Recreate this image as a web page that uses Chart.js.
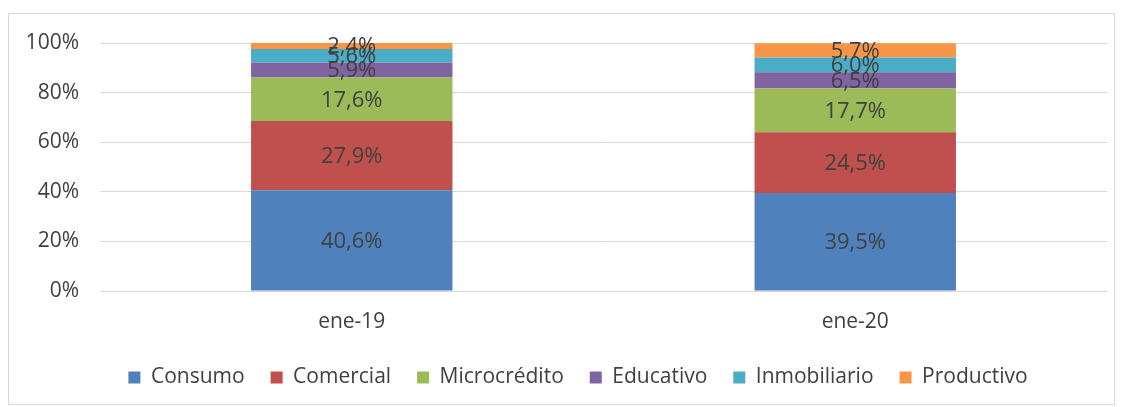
<!DOCTYPE html>
<html>
<head>
<meta charset="utf-8">
<script src="https://cdn.jsdelivr.net/npm/chart.js@4/dist/chart.umd.min.js"></script>
<style>
  html, body { margin: 0; padding: 0; background: #fff; }
  .frame {
    position: absolute; left: 8px; top: 13px; width: 1107px; height: 392px;
    border: 1px solid #d9d9d9; box-sizing: border-box;
  }
  .wrap { position: absolute; left: 9px; top: 14px; width: 1105px; height: 390px; }
</style>
</head>
<body>
<div class="frame"></div>
<div class="wrap"><canvas id="MyChart"></canvas></div>
<script>
const periods = ['ene-19', 'ene-20'];
const consumo = [40.6, 39.5];
const comercial = [27.9, 24.5];
const microcredito = [17.6, 17.7];
const educativo = [5.9, 6.5];
const inmobiliario = [5.6, 6.0];
const productivo = [2.4, 5.7];
const yTicks = [0, 20, 40, 60, 80, 100];

const fontName = "'Open Sans', 'Noto Sans', sans-serif";

// draws the value in the middle of every segment
const segmentLabels = {
    id: 'segmentLabels',
    afterDatasetsDraw(chart) {
        const c = chart.ctx;
        c.save();
        c.font = '22px ' + fontName;
        c.fillStyle = '#404040';
        c.textAlign = 'center';
        c.textBaseline = 'middle';
        chart.data.datasets.forEach((ds, i) => {
            chart.getDatasetMeta(i).data.forEach((bar, j) => {
                const p = bar.getCenterPoint();
                c.fillText(ds.data[j].toFixed(1).replace('.', ',') + '%', p.x, p.y + 1);
            });
        });
        c.restore();
    }
};

// legend box is kept short so the axis labels keep their room,
// and nudged a bit right/down like in the original
const legendHeight = {
    id: 'legendHeight',
    beforeInit(chart) {
        const lg = chart.legend;
        if (!lg) return;
        const fit = lg.fit;
        lg.fit = function () {
            fit.call(this);
            this.height = 64;
        };
        const draw = lg.draw;
        lg.draw = function () {
            chart.ctx.save();
            chart.ctx.translate(20, 5);
            draw.call(this);
            chart.ctx.restore();
        };
    }
};

const ctx = document.getElementById('MyChart').getContext('2d');
let myChart = new Chart(ctx, {
    type: 'bar',
    data: {
        labels: periods,
        datasets: [
            { label: 'Consumo', data: consumo, backgroundColor: '#4f81bd' },
            { label: 'Comercial', data: comercial, backgroundColor: '#c0504d' },
            { label: 'Microcrédito', data: microcredito, backgroundColor: '#9bbb59' },
            { label: 'Educativo', data: educativo, backgroundColor: '#8064a2' },
            { label: 'Inmobiliario', data: inmobiliario, backgroundColor: '#4bacc6' },
            { label: 'Productivo', data: productivo, backgroundColor: '#f79646' }
        ]
    },
    options: {
        responsive: true,
        maintainAspectRatio: false,
        animation: false,
        datasets: { bar: { categoryPercentage: 0.4, barPercentage: 1 } },
        layout: { padding: { left: 0, right: 7, top: 29, bottom: 4 } },
        plugins: {
            tooltip: { enabled: false },
            legend: {
                position: 'bottom',
                labels: {
                    boxWidth: 12, boxHeight: 12, padding: 26,
                    color: '#404040',
                    font: { family: fontName, size: 21 }
                }
            }
        },
        scales: {
            x: {
                stacked: true,
                afterFit(scale) { scale.height = 45; },
                grid: { display: false, drawTicks: false },
                border: { color: '#d9d9d9' },
                ticks: { color: '#404040', padding: 18, font: { family: fontName, size: 21 } }
            },
            y: {
                stacked: true,
                min: 0, max: 100,
                afterFit(scale) {
                    scale.width = 91;
                    scale.paddingTop = 0;
                    scale.paddingBottom = 0;
                },
                afterBuildTicks(scale) { scale.ticks = yTicks.map(v => ({ value: v })); },
                grid: { color: '#d9d9d9', drawTicks: false },
                border: { display: false },
                ticks: {
                    color: '#404040', padding: 21,
                    font: { family: fontName, size: 21 },
                    callback: v => v + '%'
                }
            }
        }
    },
    plugins: [segmentLabels, legendHeight]
});
</script>
</body>
</html>
